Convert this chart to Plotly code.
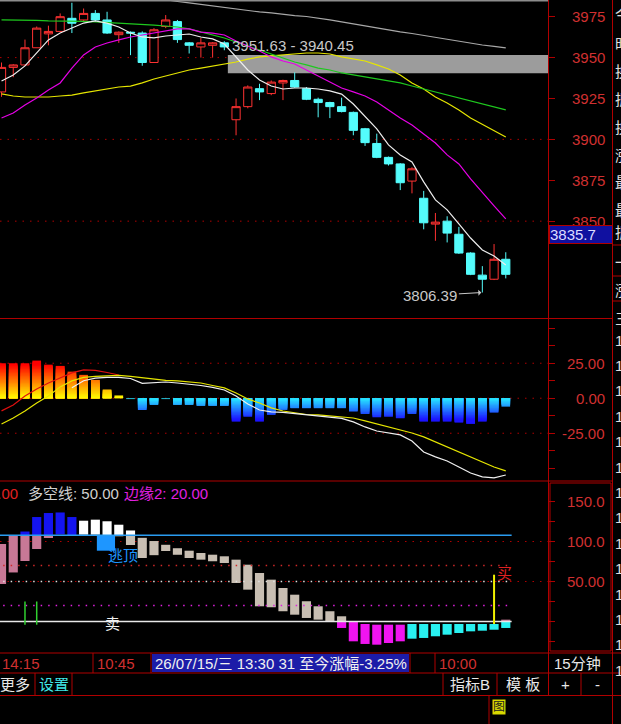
import plotly.graph_objects as go

# ---------------- 15分钟K线 ----------------
opens = [3929, 3944, 3945.5, 3956, 3964.5, 3966, 3974, 3973, 3977, 3973, 3964, 3965.5, 3965, 3947,
         3969, 3972, 3959, 3956.5, 3957.5, 3959, 3912, 3920, 3931, 3928, 3934.5, 3936, 3931, 3924.5,
         3922.5, 3920, 3916.5, 3906.5, 3897.5, 3889, 3885, 3874.5, 3864, 3848.2, 3850, 3842, 3830.5,
         3817, 3814.5, 3826.7]
highs = [3947, 3946, 3961, 3969, 3969.5, 3977, 3983.5, 3980, 3979, 3978, 3966, 3966, 3966, 3968,
         3976, 3973, 3959.5, 3962, 3959.5, 3960, 3925, 3933, 3934, 3936, 3936.5, 3941, 3932, 3925.5,
         3923, 3925.5, 3917, 3907, 3903.5, 3889.5, 3885.5, 3883, 3868.5, 3855, 3853, 3846.5, 3831,
         3822.5, 3836, 3831]
lows = [3926, 3938, 3945, 3956, 3957.5, 3965.5, 3965, 3972, 3972, 3964.5, 3959, 3951.5, 3945, 3947,
        3968, 3959, 3952.5, 3950, 3950, 3954.5, 3902.5, 3919, 3924, 3927, 3924, 3931.5, 3924, 3913.5,
        3913, 3916.5, 3902.5, 3896, 3888.5, 3884, 3869, 3867, 3845, 3838, 3837, 3830, 3817,
        3806.39, 3814, 3815]
closes = [3944, 3945.5, 3956, 3968, 3966, 3975, 3971, 3977, 3973, 3965, 3965.5, 3965, 3947, 3967,
          3973, 3961, 3957.5, 3959, 3959, 3956.5, 3920, 3932, 3929, 3935, 3936, 3932, 3924.5, 3922.5,
          3920, 3917, 3905.5, 3898, 3889, 3885, 3873.5, 3882, 3849, 3849.4, 3842.7, 3830.5, 3817.5,
          3814.5, 3826.7, 3817.5]

ma_white = [3935.7, 3939.4, 3944.9, 3952.8, 3960.8, 3965.0, 3968.1, 3971.1, 3972.4, 3971.1, 3968.7,
            3965.0, 3962.6, 3962.0, 3963.2, 3963.8, 3964.4, 3962.6, 3961.4, 3958.3, 3950.4, 3942.4,
            3936.3, 3932.6, 3930.8, 3931.4, 3931.4, 3930.8, 3929.6, 3927.7, 3921.6, 3914.3, 3906.4,
            3896.6, 3890.5, 3886.2, 3874.0, 3863.0, 3856.9, 3848.3, 3839.7, 3832.4, 3828.7, 3823.2]
ma_magenta = [3913.1, 3916.1, 3921.0, 3925.3, 3930.2, 3934.5, 3943.6, 3951.6, 3956.5, 3958.9, 3960.8,
              3962.6, 3963.8, 3965.0, 3966.3, 3967.5, 3967.5, 3965.6, 3965.0, 3963.8, 3960.1, 3957.1,
              3954.0, 3950.4, 3947.9, 3946.1, 3942.4, 3938.8, 3935.1, 3931.4, 3929.0, 3926.5, 3922.9,
              3918.0, 3913.1, 3908.8, 3903.3, 3897.8, 3890.5, 3885.0, 3875.8, 3867.2, 3859.3, 3851.4]
ma_green = [3973.0, 3973.0, 3973.0, 3972.7, 3972.4, 3972.4, 3972.4, 3972.1, 3971.8, 3971.5, 3971.1,
            3970.8, 3970.5, 3969.9, 3969.3, 3968.7, 3967.5, 3965.7, 3963.8, 3962.0, 3959.5, 3957.1,
            3954.6, 3952.2, 3949.8, 3947.3, 3945.5, 3943.6, 3942.4, 3940.6, 3939.4, 3938.1, 3936.9,
            3935.7, 3934.5, 3932.6, 3930.8, 3929.0, 3927.1, 3925.3, 3923.5, 3921.6, 3919.8, 3918.0]
ma_yellow = [3927.8, 3926.5, 3925.9, 3925.9, 3925.9, 3926.5, 3927.1, 3928.4, 3929.6, 3930.8, 3932.0,
             3932.6, 3934.5, 3936.9, 3938.8, 3940.6, 3942.4, 3943.6, 3944.9, 3946.1, 3947.3, 3949.1,
             3950.4, 3951.0, 3951.6, 3952.2, 3952.8, 3952.8, 3952.2, 3950.4, 3949.1, 3947.9, 3945.5,
             3943.0, 3939.4, 3934.5, 3930.8, 3925.9, 3922.2, 3918.0, 3913.1, 3909.4, 3905.2, 3901.5]
ma_gray = [None] * 13 + [3986.4, 3985.2, 3984.3, 3983.4, 3982.5, 3981.5, 3980.3, 3979.7, 3978.8,
                         3977.9, 3977.3, 3976.3, 3975.7, 3975.1, 3974.2, 3973.0, 3971.8, 3970.5,
                         3969.3, 3968.1, 3966.9, 3965.7, 3964.7, 3963.5, 3962.3, 3961.1, 3959.8,
                         3958.6, 3957.7, 3956.8, 3955.9]

zone_lo, zone_hi = 3940.45, 3951.63
zone_start = 19.3
last_price = 3835.7
price_ticks = [3850, 3875, 3900, 3925, 3950, 3975]
price_grid = [3850, 3900, 3950]

# ---------------- MACD ----------------
macd_bar = [25, 25, 25, 26.9, 24, 23.1, 19, 16.7, 13.1, 6.2, 2, -0.6, -8.4, -4.8, -0.6, -4.8, -4.8,
            -5.5, -5.5, -5.5, -16.7, -13.1, -16.7, -11.9, -8.3, -7.1, -7.1, -7.1, -7.1, -7.1, -9.5,
            -11.2, -13.6, -13.1, -14.3, -11.2, -16.7, -16.7, -16.7, -17.4, -18.3, -16.7, -10.2, -6]
macd_dif = [None] * 6 + [7.5, 12.5, 14.3, 14.9, 14.9, 14.1, 10.6, 10.9, 11.6, 10.9, 10.2, 9.1, 7.7,
                         5.9, 1.6, -4.1, -8.4, -9.8, -10.1, -10.9, -11.6, -12.3, -13.4, -14.4,
                         -16.9, -20.5, -23.4, -24.8, -26.2, -30.5, -38.4, -41.9, -44.8, -49.1,
                         -53.4, -56.2, -56.9, -54.8]
macd_dea = [-18.4, -14.1, -9.1, -3.4, 1.6, 8.1, 12.4, 14.9, 15.6, 15.9, 16.3, 15.6, 14.5, 13.4, 12.7,
            12.4, 11.6, 10.9, 9.1, 7.4, 3.8, -0.5, -3.4, -6.9, -9.1, -10.5, -11.6, -11.9, -12.6,
            -13.0, -14.1, -16.2, -18.4, -20.5, -22.6, -24.8, -27.6, -31.2, -35.2, -38.6, -42.2,
            -45.8, -49.1, -51.9]
macd_red = [-9, -4.8, 1.6, 6.6, 10.9, 14.5, 18.1, 20.2, 19.9, 18.4, 16.6] + [None] * 33
macd_ticks = [25, 0, -25]
macd_labels = ["25.00", "0.00", "-25.00"]

# ---------------- 多空指标 ----------------
ind_open = [46.9, 61.3, 75.6, 90.6, 104.4, 108.8, 108.1, 126.0, 127.3, 125.3, 121.0, 113.8, 104.6,
            100.6, 95.9, 91.6, 88.5, 85.6, 83.5, 81.5, 77.3, 71.0, 60.6, 52.3, 41.9, 33.5, 25.3,
            19.0, 12.8, 6.5, 0.3, -3.1, -4.0, -4.0, -4.0, -21.5, -20.6, -18.5, -16.5, -14.4, -12.3,
            -11.5, -10.3, -8.1]
ind_close = [96.9, 106.9, 112.5, 130.6, 135.6, 136.3, 130.6, 108.5, 108.5, 107.8, 106.5, 95.6, 79.4,
             82.9, 88.1, 83.4, 79.4, 77.3, 75.3, 73.1, 48.1, 39.8, 19.0, 17.8, 12.8, 8.5, 4.4, 2.3,
             -0.6, -8.1, -24.8, -28.1, -29.0, -26.9, -24.8, -3.1, -3.1, -3.1, -3.1, -3.1, -3.1,
             -3.1, -3.1, 2.3]
edge1, long_short, edge2 = 70, 50, 20
blue_level = 107.75
green_sticks = [2, 3]
green_lo, green_hi = -4, 25
buy_idx, buy_lo, buy_hi = 42, -3.1, 58.5
sell_idx, sell_val = 9, -2.5
escape_idx, escape_lo = 9, 88.5
ind_ticks = [50, 100, 150]
ind_labels = ["50.00", "100.0", "150.0"]

W, H = 621, 724
FONT = "Liberation Sans, Noto Sans CJK SC, sans-serif"
RED_TXT = "#d03030"
RED_LN = "#b00000"
n = len(closes)
xs = list(range(n))
x_range = [-0.13, 46.6]


def X(px):
    return px / W


def Y(py):
    return 1 - py / H


fig = go.Figure()

# K线 + 均线
fig.add_trace(go.Candlestick(
    x=xs, open=opens, high=highs, low=lows, close=closes,
    increasing=dict(line=dict(color="#ff3232", width=1), fillcolor="#000000"),
    decreasing=dict(line=dict(color="#54fcfc", width=1), fillcolor="#54fcfc"),
    whiskerwidth=0, hoverinfo="skip"))
for vals, col in [(ma_gray, "#a8a8a8"), (ma_yellow, "#e6e600"), (ma_green, "#1ec81e"),
                  (ma_magenta, "#e600e6"), (ma_white, "#eeeeee")]:
    fig.add_trace(go.Scatter(x=xs, y=vals, mode="lines", line=dict(color=col, width=1.2),
                             hoverinfo="skip"))

# MACD 渐变柱: 由外向内叠画, 每层从0画到本层上沿
step = 1.0
for k in reversed(range(30)):
    lo, hi = k * step, (k + 1) * step
    seg = [min(v, hi) if v > lo else None for v in macd_bar]
    t = min((lo + step / 2) / 24, 1)
    fig.add_trace(go.Bar(x=xs, y=seg, width=0.74, yaxis="y2", hoverinfo="skip",
                         marker=dict(color=f"rgb(255,{int(255 * (1 - t))},0)", line=dict(width=0))))
for k in reversed(range(22)):
    hi, lo = -k * step, -(k + 1) * step
    seg = [max(v, lo) if v < hi else None for v in macd_bar]
    t = min((k + 0.5) * step / 15, 1)
    c = (int(40 + (28 - 40) * t), int(236 + (20 - 236) * t), 255)
    fig.add_trace(go.Bar(x=xs, y=seg, width=0.74, yaxis="y2", hoverinfo="skip",
                         marker=dict(color=f"rgb{c}", line=dict(width=0))))
for vals, col in [(macd_red, "#e01010"), (macd_dea, "#e6e600"), (macd_dif, "#f0f0f0")]:
    fig.add_trace(go.Scatter(x=xs, y=vals, mode="lines", line=dict(color=col, width=1.2),
                             yaxis="y2", hoverinfo="skip"))

# 多空指标
ends = [-0.5, n - 0.5]
for lvl, col in [(blue_level, "#2a9cf0"), (0, "#e8e8e8")]:
    fig.add_trace(go.Scatter(x=ends, y=[lvl, lvl], mode="lines", yaxis="y3", hoverinfo="skip",
                             line=dict(color=col, width=1.5)))
for lvl, col in [(edge1, "#d02828"), (long_short, "#e0e0e0"), (edge2, "#e020e0")]:
    fig.add_trace(go.Scatter(x=ends, y=[lvl, lvl], mode="lines", yaxis="y3", hoverinfo="skip",
                             line=dict(color=col, width=1.5, dash="1.5px,6px")))

zones = [(-1e9, 0, "#f014f0", "#28f0f0"),
         (0, blue_level, "#c8beb2", "#c87896"),
         (blue_level, 1e9, "#ffffff", "#1414f0")]
for lo, hi, fall_col, rise_col in zones:
    for rising, col in [(True, rise_col), (False, fall_col)]:
        bases, heights = [], []
        for o, c in zip(ind_open, ind_close):
            a, b = max(min(o, c), lo), min(max(o, c), hi)
            if (c > o) == rising and b > a:
                bases.append(a)
                heights.append(b - a)
            else:
                bases.append(0)
                heights.append(None)
        fig.add_trace(go.Bar(x=xs, y=heights, base=bases, width=0.78, yaxis="y3",
                             hoverinfo="skip", marker=dict(color=col, line=dict(width=0))))

fig.add_trace(go.Bar(x=[escape_idx], y=[blue_level - escape_lo], base=[escape_lo], width=1.55,
                     offset=-0.87, yaxis="y3", hoverinfo="skip",
                     marker=dict(color="#1e96ff", line=dict(width=0))))
gx, gy = [], []
for i in green_sticks:
    gx += [i, i, None]
    gy += [green_lo, green_hi, None]
fig.add_trace(go.Scatter(x=gx, y=gy, mode="lines", yaxis="y3", hoverinfo="skip",
                         line=dict(color="#30d030", width=1.5)))
fig.add_trace(go.Scatter(x=[buy_idx, buy_idx], y=[buy_lo, buy_hi], mode="lines", yaxis="y3",
                         hoverinfo="skip", line=dict(color="#f0f000", width=2)))

# 网格
for lvl in price_grid:
    fig.add_shape(type="line", xref="x domain", yref="y", x0=0, x1=1, y0=lvl, y1=lvl, layer="below",
                  line=dict(color=RED_LN, width=1, dash="1.5px,6px"))
for lvl in macd_ticks:
    fig.add_shape(type="line", xref="x domain", yref="y2", x0=0, x1=1, y0=lvl, y1=lvl,
                  layer="below", line=dict(color=RED_LN, width=1, dash="1.5px,6px"))
for lvl in [100, 50]:
    fig.add_shape(type="line", xref="x domain", yref="y3", x0=0, x1=1, y0=lvl, y1=lvl,
                  layer="below", line=dict(color=RED_LN, width=1, dash="1.5px,6px"))

# 区间框
fig.add_shape(type="rect", xref="x", yref="y", x0=zone_start, x1=x_range[1], y0=zone_lo, y1=zone_hi,
              fillcolor="#9c9c9c", line=dict(width=0), layer="below")


def hline(py, x0, x1, color=RED_LN, w=1):
    fig.add_shape(type="line", xref="paper", yref="paper", x0=X(x0), x1=X(x1), y0=Y(py), y1=Y(py),
                  line=dict(color=color, width=w))


def vline(px, y0, y1, color=RED_LN, w=1):
    fig.add_shape(type="line", xref="paper", yref="paper", x0=X(px), x1=X(px), y0=Y(y0), y1=Y(y1),
                  line=dict(color=color, width=w))


hline(0.8, 0, 548, "#8c8c8c", 1.5)
vline(548.5, 0, 695)
vline(612.5, 0, 724)
for py in [318.5, 481]:
    hline(py, 0, 612)
for py in [653, 673, 695.5]:
    hline(py, 0, 621)
for py in [245, 276, 301]:
    hline(py, 612, 621)
fig.add_shape(type="rect", xref="paper", yref="paper", x0=X(550), x1=X(611), y0=Y(651), y1=Y(483),
              line=dict(color=RED_LN, width=1))
for px in [93, 151, 410, 435]:
    vline(px, 653, 673)
for px in [35, 72, 443, 497, 581]:
    vline(px, 673, 695)
vline(489, 695, 724)
fig.add_shape(type="rect", xref="paper", yref="paper", x0=X(152), x1=X(409), y0=Y(672), y1=Y(654),
              fillcolor="#1c1ca8", line=dict(width=0))


def txt(px, py, s, color, anchor="left", size=15, bg=None):
    fig.add_annotation(xref="paper", yref="paper", x=X(px), y=Y(py), text=s, showarrow=False,
                       xanchor=anchor, yanchor="middle", bgcolor=bg, borderpad=0,
                       font=dict(family=FONT, size=size, color=color))


# 右侧刻度文字
for yref, vals, labels in [("y", price_ticks, [str(v) for v in price_ticks]),
                           ("y2", macd_ticks, macd_labels),
                           ("y3", ind_ticks, ind_labels)]:
    for v, s in zip(vals, labels):
        fig.add_annotation(xref="paper", yref=yref, x=X(606), y=v, text=s, showarrow=False,
                           xanchor="right", yanchor="middle", borderpad=0,
                           font=dict(family=FONT, size=15, color=RED_TXT))

# 主图标注
fig.add_annotation(x=zone_start, y=zone_hi + 6, xref="x", yref="y", xanchor="left", xshift=2,
                   text=f"{zone_hi:.2f} - {zone_lo:.2f}", showarrow=False,
                   font=dict(family=FONT, size=15, color="#c8c8c8"))
low_i = lows.index(min(lows))
fig.add_annotation(x=low_i, y=lows[low_i], xref="x", yref="y", text=f"{lows[low_i]:.2f}",
                   showarrow=True, ax=-52, ay=3, arrowhead=1, arrowsize=1, arrowwidth=1,
                   arrowcolor="#c8c8c8", standoff=1, font=dict(family=FONT, size=15, color="#c8c8c8"))
fig.add_annotation(xref="paper", yref="paper", x=X(549), y=Y(235), xanchor="left", yanchor="middle",
                   text=f"{last_price}", showarrow=False, bgcolor="#1010a0", width=62, height=17,
                   align="left", bordercolor=RED_LN, borderwidth=1, borderpad=0,
                   font=dict(family=FONT, size=15, color="#dcdcff"))

# 指标标注
txt(19, 493, f"边缘1: {edge1:.2f}", "#e02020", "right")
txt(27, 493, f"多空线: {long_short:.2f}", "#d0d0d0")
txt(123, 493, f"边缘2: {edge2:.2f}", "#e020e0")
fig.add_annotation(x=escape_idx, y=83, xref="x", yref="y3", xanchor="left", xshift=-1,
                   text="逃顶", showarrow=False, font=dict(family=FONT, size=15, color="#1e96ff"))
fig.add_annotation(x=sell_idx, y=sell_val, xref="x", yref="y3", xshift=5,
                   text="卖", showarrow=False, font=dict(family=FONT, size=15, color="#f0f0f0"))
fig.add_annotation(x=buy_idx, y=buy_hi + 2, xref="x", yref="y3", xanchor="left", xshift=1,
                   text="买", showarrow=False, font=dict(family=FONT, size=15, color="#e02020"))

# 时间栏 / 工具栏
txt(1, 663, "14:15", RED_TXT)
txt(96, 663, "10:45", RED_TXT)
txt(154, 663, "26/07/15/三 13:30 31 至今涨幅-3.25%", "#f0f0f0")
txt(438, 663, "10:00", RED_TXT)
txt(553, 663, "15分钟", "#e8e8e8")
txt(-1, 684, "更多", "#e8e8e8")
txt(38, 684, "设置", "#40e8e8")
txt(449, 684, "指标B", "#e8e8e8")
txt(505, 684, "模 板", "#e8e8e8")
txt(565, 684, "+", "#e8e8e8", "center")
txt(597, 684, "-", "#e8e8e8", "center")
txt(492, 707, "图", "#202020", size=12, bg="#d8d800")

# 右侧信息栏(被截断)
for py, ch in zip([14, 44, 72, 100, 127, 155, 183, 210, 233, 262, 290, 318],
                  ["今", "时", "换", "振", "换", "涨", "最", "最", "振", "一", "涨", "三"]):
    txt(614, py, ch, "#e0e0e0")
for k in range(14):
    txt(614, 340 + 25.4 * k, "1", "#e0e0e0")

axis_common = dict(showgrid=False, zeroline=False, showline=False, automargin=False)
tick_common = dict(side="right", anchor="x", ticks="outside", ticklen=6, tickcolor=RED_LN,
                   showticklabels=False, **axis_common)

fig.update_layout(
    width=W, height=H, margin=dict(l=0, r=0, t=0, b=0),
    paper_bgcolor="#000000", plot_bgcolor="#000000",
    showlegend=False, barmode="overlay", boxgap=0.3, boxgroupgap=0, dragmode=False,
    xaxis=dict(domain=[0, X(548)], range=x_range, visible=False, anchor="y",
               rangeslider=dict(visible=False), **axis_common),
    yaxis=dict(domain=[Y(318), 1], range=[3790.8, 3985.2], tickvals=price_ticks, **tick_common),
    yaxis2=dict(domain=[Y(480), Y(319)], range=[-58.4, 56.6],
                tickvals=[-50, -37.5, -25, -12.5, 0, 12.5, 25, 37.5, 50], **tick_common),
    yaxis3=dict(domain=[Y(653), Y(482)], range=[-39.4, 174.4],
                tickvals=[-25, 0, 25, 50, 75, 100, 125, 150], **tick_common),
)

fig.write_html("out.html", config={"displayModeBar": False, "staticPlot": True},
               post_script="document.body.style.margin='0';document.body.style.overflow='hidden';")
